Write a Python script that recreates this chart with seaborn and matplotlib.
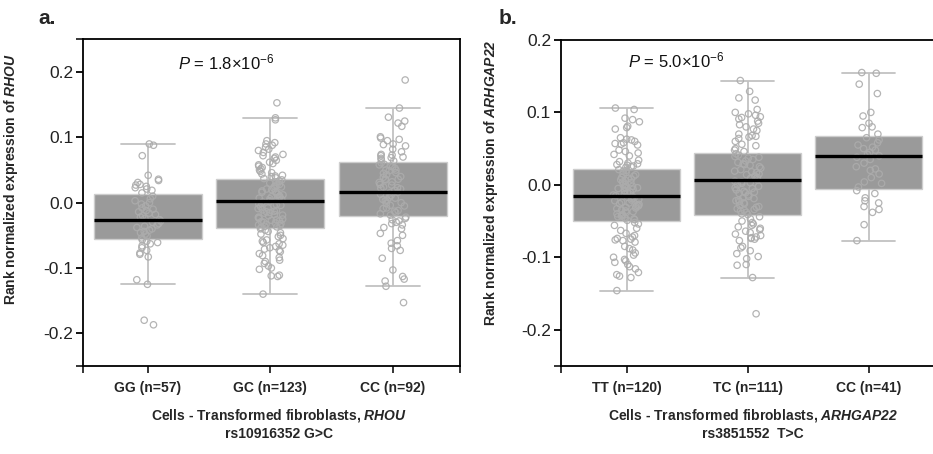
import numpy as np
import pandas as pd
import matplotlib
matplotlib.use("Agg")
import matplotlib.pyplot as plt
from matplotlib.collections import PathCollection
import seaborn as sns

# ---------------- data ----------------
a_groups = ["GG (n=57)", "GC (n=123)", "CC (n=92)"]
b_groups = ["TT (n=120)", "TC (n=111)", "CC (n=41)"]

# box summaries: lower whisker, Q1, median, Q3, upper whisker
a_low = [-0.125, -0.140, -0.128]
a_q1 = [-0.056, -0.039, -0.020]
a_med = [-0.027, 0.002, 0.017]
a_q3 = [0.013, 0.036, 0.062]
a_high = [0.090, 0.130, 0.145]

b_low = [-0.146, -0.128, -0.077]
b_q1 = [-0.050, -0.042, -0.006]
b_med = [-0.015, 0.007, 0.040]
b_q3 = [0.022, 0.044, 0.067]
b_high = [0.106, 0.144, 0.155]

gg_pts = [0.090, 0.088, 0.072, 0.042, 0.036, 0.034, 0.031, 0.028, 0.027, 0.025, 0.023, 0.021,
          0.019, 0.015, 0.010, 0.006, 0.003, 0.000, -0.002, -0.005, -0.008, -0.010, -0.012,
          -0.014, -0.016, -0.018, -0.020, -0.022, -0.024, -0.026, -0.028, -0.030, -0.032,
          -0.034, -0.036, -0.038, -0.040, -0.042, -0.044, -0.046, -0.048, -0.051, -0.054,
          -0.057, -0.059, -0.061, -0.063, -0.066, -0.069, -0.073, -0.077, -0.079, -0.083,
          -0.118, -0.125, -0.180, -0.187]
gc_pts = [0.153, 0.130, 0.127, 0.095, 0.092, 0.090, 0.088, 0.085, 0.082, 0.080, 0.077, 0.074,
          0.072, 0.070, 0.068, 0.065, 0.062, 0.060, 0.058, 0.056, 0.054, 0.052, 0.050, 0.048,
          0.046, 0.044, 0.042, 0.041, 0.040, 0.038, 0.037,
          0.035, 0.033, 0.032, 0.030, 0.028, 0.027, 0.025, 0.024, 0.022, 0.021, 0.020, 0.018,
          0.016, 0.015, 0.013, 0.012, 0.010, 0.009, 0.007, 0.006, 0.005, 0.004, 0.003, 0.002,
          0.001, -0.001, -0.002, -0.004, -0.005, -0.006, -0.008, -0.009, -0.011, -0.012,
          -0.013, -0.015, -0.016, -0.018, -0.019, -0.020, -0.022, -0.023, -0.024, -0.025,
          -0.027, -0.028, -0.029, -0.030, -0.031, -0.032, -0.033, -0.034, -0.035, -0.036,
          -0.037, -0.038, 0.017, 0.008, -0.003, -0.014, -0.026,
          -0.040, -0.042, -0.044, -0.046, -0.048, -0.050, -0.052, -0.055, -0.057, -0.059,
          -0.061, -0.063, -0.065, -0.067, -0.069, -0.071, -0.073, -0.075, -0.078, -0.081,
          -0.084, -0.088, -0.090, -0.093, -0.097, -0.100, -0.102, -0.111, -0.112, -0.113, -0.140]
cc_pts = [0.188, 0.145, 0.131, 0.125, 0.122, 0.117, 0.101, 0.099, 0.097, 0.095, 0.090, 0.089,
          0.087, 0.082, 0.078, 0.074, 0.073, 0.072, 0.070, 0.069, 0.068, 0.066, 0.064,
          0.061, 0.059, 0.056, 0.055, 0.053, 0.050, 0.049, 0.046, 0.045, 0.043, 0.040, 0.039,
          0.036, 0.035, 0.032, 0.031, 0.028, 0.027, 0.024, 0.023, 0.021, 0.019, 0.016, 0.015,
          0.013, 0.011, 0.008, 0.007, 0.005, 0.003, 0.000, -0.001, -0.004, -0.005, -0.008,
          -0.009, -0.012, -0.013, -0.015, -0.017, -0.019, 0.058, 0.050, 0.036, 0.022, 0.004,
          -0.022, -0.024, -0.026, -0.028, -0.030, -0.032, -0.034, -0.038, -0.040, -0.047,
          -0.050, -0.058, -0.062, -0.066, -0.070, -0.073, -0.085, -0.103, -0.113, -0.117,
          -0.120, -0.128, -0.153]

tt_pts = [0.106, 0.104, 0.092, 0.090, 0.087, 0.081, 0.079, 0.077, 0.065, 0.063, 0.062, 0.060,
          0.058, 0.057, 0.056, 0.055, 0.048, 0.046, 0.044, 0.042, 0.040, 0.034, 0.032, 0.030,
          0.029, 0.028, 0.027, 0.026, 0.025, 0.024,
          0.021, 0.020, 0.019, 0.017, 0.015, 0.014, 0.012, 0.010, 0.009, 0.007, 0.006, 0.004,
          0.003, 0.001, 0.000, -0.002, -0.003, -0.004, -0.005, -0.006, -0.008, -0.009, -0.010,
          -0.011, -0.013, -0.014, -0.015, -0.016, -0.017, -0.019, -0.020, -0.021, -0.022,
          -0.024, -0.025, -0.026, -0.027, -0.029, -0.030, -0.031, -0.032, -0.033, -0.035,
          -0.036, -0.037, -0.038, -0.040, -0.041, -0.042, -0.043, -0.044, -0.045, -0.046,
          -0.047, -0.048, -0.049, -0.004, -0.018, -0.028, 0.008,
          -0.052, -0.054, -0.056, -0.060, -0.063, -0.067, -0.070, -0.072, -0.074, -0.075,
          -0.076, -0.077, -0.079, -0.085, -0.088, -0.090, -0.094, -0.097, -0.100, -0.103,
          -0.105, -0.107, -0.110, -0.113, -0.116, -0.121, -0.124, -0.126, -0.128, -0.146]
tc_pts = [0.144, 0.129, 0.120, 0.117, 0.104, 0.100, 0.098, 0.096, 0.094, 0.093, 0.091, 0.088,
          0.085, 0.083, 0.080, 0.077, 0.075, 0.070, 0.068, 0.067, 0.066, 0.064, 0.060, 0.056,
          0.054, 0.050, 0.048, 0.046,
          0.043, 0.041, 0.039, 0.037, 0.035, 0.033, 0.031, 0.029, 0.027, 0.025, 0.023, 0.021,
          0.019, 0.017, 0.015, 0.014, 0.012, 0.010, 0.009, 0.007, 0.005, 0.004, 0.002, 0.000,
          -0.002, -0.004, -0.005, -0.007, -0.009, -0.011, -0.012, -0.014, -0.016, -0.018,
          -0.019, -0.021, -0.023, -0.025, -0.026, -0.028, -0.030, -0.031, -0.033, -0.035,
          -0.036, -0.038, -0.040, -0.041, 0.038, 0.028, 0.018, 0.003, -0.010, -0.022, -0.034,
          -0.044, -0.047, -0.050, -0.052, -0.054, -0.056, -0.058, -0.060, -0.062, -0.064,
          -0.066, -0.068, -0.070, -0.072, -0.073, -0.075, -0.077, -0.085, -0.087, -0.091,
          -0.095, -0.099, -0.102, -0.110, -0.111, -0.128, -0.178, -0.074]
cc2_pts = [0.155, 0.154, 0.139, 0.126, 0.100, 0.095, 0.085, 0.080, 0.079, 0.070,
           0.065, 0.062, 0.058, 0.055, 0.052, 0.050, 0.048, 0.045, 0.042, 0.040, 0.038,
           0.035, 0.030, 0.025, 0.022, 0.020, 0.015, 0.010, 0.004, 0.002, -0.003,
           -0.008, -0.012, -0.018, -0.022, -0.025, -0.030, -0.034, -0.038, -0.055, -0.077]

a_pts = [gg_pts, gc_pts, cc_pts]
b_pts = [tt_pts, tc_pts, cc2_pts]

# ---------------- style ----------------
sns.set_style("ticks")
plt.rcParams["font.family"] = ["Liberation Sans", "DejaVu Sans"]
plt.rcParams["mathtext.fontset"] = "custom"
plt.rcParams["mathtext.rm"] = "Liberation Sans"
plt.rcParams["mathtext.it"] = "Liberation Sans:italic"
plt.rcParams["mathtext.bf"] = "Liberation Sans:bold"
plt.rcParams["mathtext.bfit"] = "Liberation Sans:bold:italic"

BOX_FACE = "#9a9a9a"
BOX_EDGE = "#cdcdcd"
WHISK = "#c2c2c2"
PT_EDGE = "#acacac"

fig = plt.figure(figsize=(9.33, 4.54), dpi=100)
ax_a = fig.add_axes([0.089, 0.194, 0.404, 0.719])
ax_b = fig.add_axes([0.601, 0.194, 0.402, 0.718])


def draw_panel(ax, groups, low, q1, med, q3, high, pts, seed):
    box_df = pd.DataFrame({
        "g": [g for g in groups for _ in range(5)],
        "v": [val for i in range(len(groups))
              for val in (low[i], q1[i], med[i], q3[i], high[i])],
    })
    sns.boxplot(data=box_df, x="g", y="v", order=groups, ax=ax, width=0.88,
                whis=(0, 100), showfliers=False, color=BOX_FACE, saturation=1,
                linecolor=WHISK, linewidth=1.3,
                boxprops=dict(facecolor=BOX_FACE, edgecolor=BOX_EDGE, linewidth=1.0),
                medianprops=dict(color="black", linewidth=2.4, zorder=6))
    pt_df = pd.DataFrame({
        "g": [groups[i] for i in range(len(groups)) for _ in pts[i]],
        "v": [v for p in pts for v in p],
    })
    np.random.seed(seed)
    sns.stripplot(data=pt_df, x="g", y="v", order=groups, ax=ax, jitter=0.11,
                  size=4.6, color=PT_EDGE, zorder=3)
    for coll in ax.collections:
        if isinstance(coll, PathCollection):
            coll.set_facecolor("none")
            coll.set_edgecolor(PT_EDGE)
            coll.set_linewidth(0.9)
            coll.set_alpha(0.9)


draw_panel(ax_a, a_groups, a_low, a_q1, a_med, a_q3, a_high, a_pts, 3)
draw_panel(ax_b, b_groups, b_low, b_q1, b_med, b_q3, b_high, b_pts, 7)

for ax, ylim, xlim in [(ax_a, (-0.25, 0.25), (-0.53, 2.55)),
                       (ax_b, (-0.25, 0.2), (-0.545, 2.555))]:
    ax.set_ylim(*ylim)
    ax.set_xlim(*xlim)
    ax.set_yticks([-0.2, -0.1, 0.0, 0.1, 0.2])
    ax.set_yticklabels(["-0.2", "-0.1", "0.0", "0.1", "0.2"])
    ax.set_yticks(list(ylim), minor=True)
    ax.set_xticks(list(xlim), minor=True)
    for s in ax.spines.values():
        s.set_visible(True)
        s.set_color("black")
        s.set_linewidth(1.3)
    ax.tick_params(axis="y", which="major", labelsize=12.5, length=5, width=1.3,
                   colors="black", labelcolor="#222222", pad=2)
    ax.tick_params(axis="x", which="major", labelsize=10, length=5, width=1.3, pad=6)
    ax.tick_params(which="minor", length=5, width=1.3)
    for lab in ax.get_xticklabels():
        lab.set_fontweight("bold")

ax_a.set_ylabel("Rank normalized expression of $\\mathbfit{RHOU}$",
                fontsize=10, fontweight="bold")
ax_b.set_ylabel("Rank normalized expression of $\\mathbfit{ARHGAP22}$",
                fontsize=10, fontweight="bold")
ax_a.yaxis.set_label_coords(-0.167, 0.572)
ax_b.yaxis.set_label_coords(-0.163, 0.561)

ax_a.set_xlabel("Cells - Transformed fibroblasts, $\\mathbfit{RHOU}$\nrs10916352 G>C",
                fontsize=10, fontweight="bold", linespacing=1.3)
ax_b.set_xlabel("Cells - Transformed fibroblasts, $\\mathbfit{ARHGAP22}$\nrs3851552  T>C",
                fontsize=10, fontweight="bold", linespacing=1.3)
ax_a.xaxis.set_label_coords(0.52, -0.125)
ax_b.xaxis.set_label_coords(0.513, -0.125)
ax_a.xaxis.label.set_va("top")
ax_b.xaxis.label.set_va("top")

ax_a.text(0.64, 0.215, "$\\mathit{P}$ = 1.8×10$^{-6}$", fontsize=12, ha="center",
          va="center", color="#111111")
ax_b.text(0.41, 0.172, "$\\mathit{P}$ = 5.0×10$^{-6}$", fontsize=12, ha="center",
          va="center", color="#111111")

fig.text(47 / 933, 1 - 18 / 454, "a.", fontsize=15, fontweight="bold", ha="center", va="center")
fig.text(508 / 933, 1 - 18 / 454, "b.", fontsize=15, fontweight="bold", ha="center", va="center")

fig.savefig("out.png", dpi=100)
